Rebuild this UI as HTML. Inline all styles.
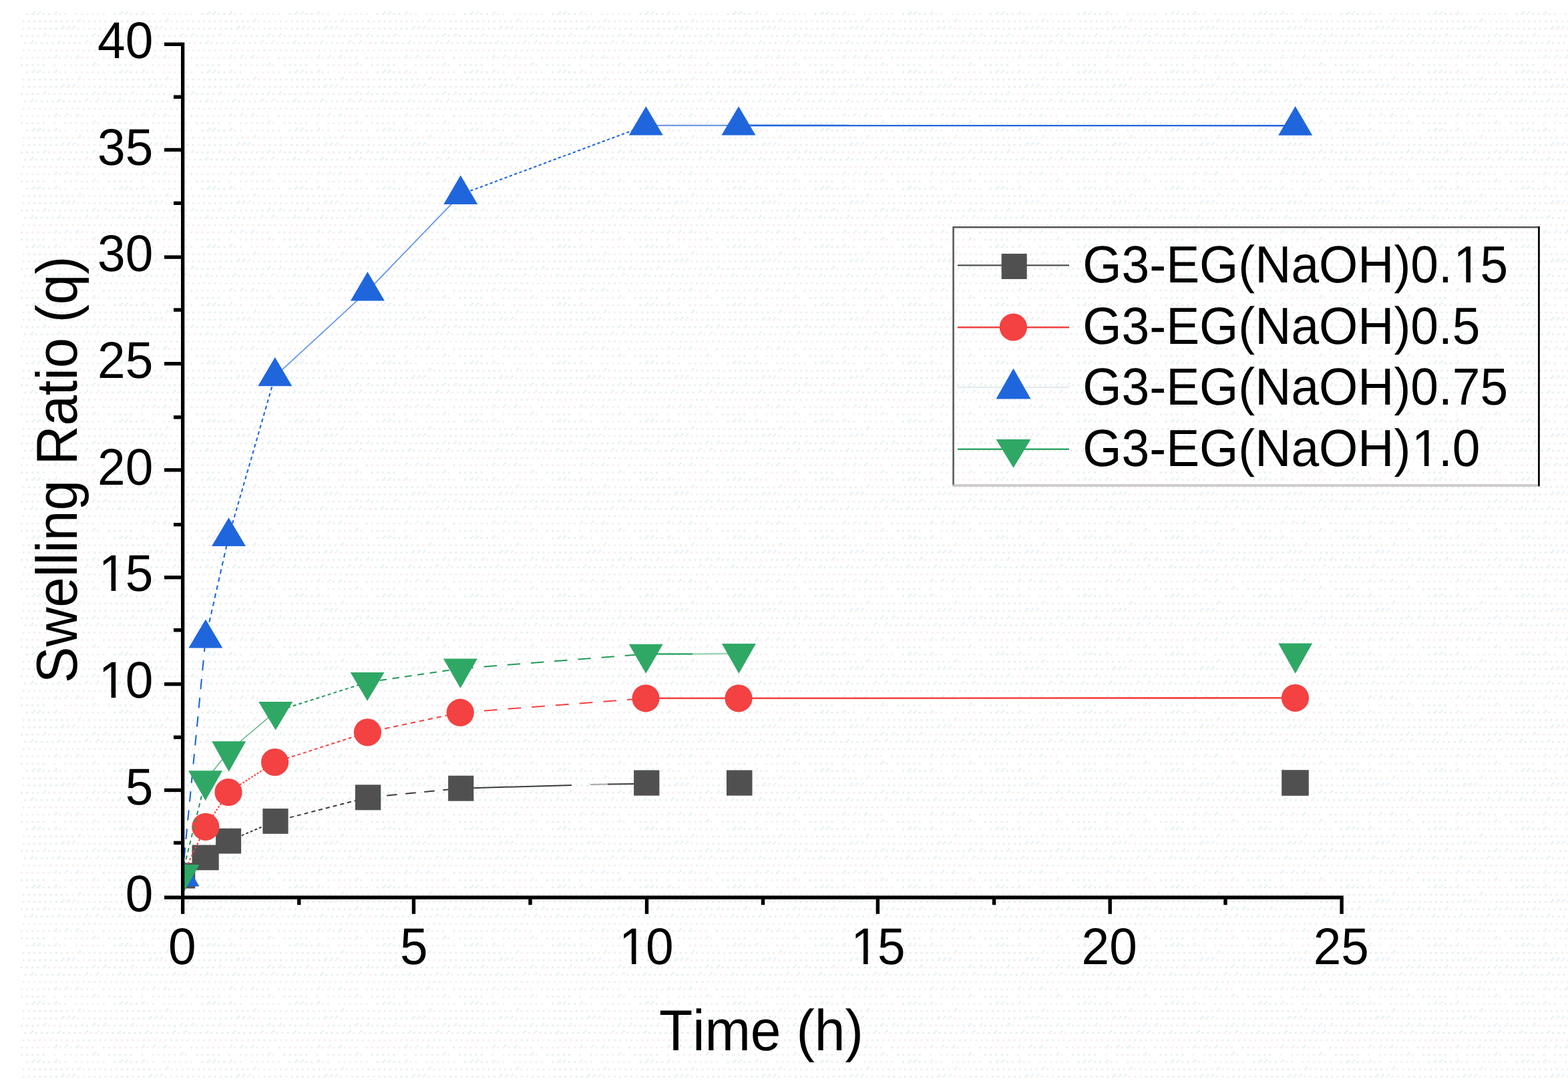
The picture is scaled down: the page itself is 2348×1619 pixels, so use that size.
<!DOCTYPE html>
<html lang="en"><head><meta charset="utf-8"><title>Swelling Ratio (q) vs Time (h)</title>
<style>html,body{margin:0;padding:0;background:#fff;}body{width:2348px;height:1619px;overflow:hidden;}svg{display:block;}text{font-family:'Liberation Sans', Arial, Helvetica, sans-serif;fill:#000;font-kerning:none;text-rendering:geometricPrecision;}</style>
</head><body>
<svg width="2348" height="1619" viewBox="0 0 2348 1619">
<defs>
<pattern id="dots" x="31" y="17" width="131.2" height="87.2" patternUnits="userSpaceOnUse">
<rect x="8.2" y="2.7" width="2.7" height="2.7" fill="#e2ecea"/>
<rect x="16.4" y="2.7" width="2.7" height="2.7" fill="#e2ecea"/>
<rect x="19.1" y="0.0" width="2.7" height="2.7" fill="#ddf0fb"/>
<rect x="19.1" y="2.7" width="2.7" height="2.7" fill="#f3fbec"/>
<rect x="24.6" y="2.7" width="2.7" height="2.7" fill="#e2ecea"/>
<rect x="27.3" y="0.0" width="2.7" height="2.7" fill="#ddf0fb"/>
<rect x="32.8" y="2.7" width="2.7" height="2.7" fill="#e2ecea"/>
<rect x="41.0" y="2.7" width="2.7" height="2.7" fill="#e2ecea"/>
<rect x="49.2" y="2.7" width="2.7" height="2.7" fill="#f7eaec"/>
<rect x="51.9" y="0.0" width="2.7" height="2.7" fill="#ddf0fb"/>
<rect x="51.9" y="2.7" width="2.7" height="2.7" fill="#f3fbec"/>
<rect x="57.4" y="2.7" width="2.7" height="2.7" fill="#f7eaec"/>
<rect x="65.6" y="2.7" width="2.7" height="2.7" fill="#f7eaec"/>
<rect x="82.0" y="2.7" width="2.7" height="2.7" fill="#f7eaec"/>
<rect x="90.2" y="2.7" width="2.7" height="2.7" fill="#f7eaec"/>
<rect x="98.4" y="2.7" width="2.7" height="2.7" fill="#f7eaec"/>
<rect x="106.6" y="2.7" width="2.7" height="2.7" fill="#f7eaec"/>
<rect x="114.8" y="2.7" width="2.7" height="2.7" fill="#f7eaec"/>
<rect x="123.0" y="2.7" width="2.7" height="2.7" fill="#f7eaec"/>
<rect x="2.7" y="13.6" width="2.7" height="2.7" fill="#f7eaec"/>
<rect x="10.9" y="13.6" width="2.7" height="2.7" fill="#e2ecea"/>
<rect x="19.1" y="13.6" width="2.7" height="2.7" fill="#e2ecea"/>
<rect x="27.3" y="13.6" width="2.7" height="2.7" fill="#e2ecea"/>
<rect x="35.5" y="13.6" width="2.7" height="2.7" fill="#e2ecea"/>
<rect x="43.7" y="13.6" width="2.7" height="2.7" fill="#e2ecea"/>
<rect x="51.9" y="13.6" width="2.7" height="2.7" fill="#e2ecea"/>
<rect x="60.1" y="13.6" width="2.7" height="2.7" fill="#e2ecea"/>
<rect x="68.3" y="13.6" width="2.7" height="2.7" fill="#e2ecea"/>
<rect x="76.5" y="13.6" width="2.7" height="2.7" fill="#f7eaec"/>
<rect x="84.7" y="13.6" width="2.7" height="2.7" fill="#f7eaec"/>
<rect x="87.4" y="10.9" width="2.7" height="2.7" fill="#ddf0fb"/>
<rect x="87.4" y="13.6" width="2.7" height="2.7" fill="#f3fbec"/>
<rect x="92.9" y="13.6" width="2.7" height="2.7" fill="#f7eaec"/>
<rect x="101.1" y="13.6" width="2.7" height="2.7" fill="#f7eaec"/>
<rect x="109.3" y="13.6" width="2.7" height="2.7" fill="#f7eaec"/>
<rect x="117.5" y="13.6" width="2.7" height="2.7" fill="#f7eaec"/>
<rect x="125.7" y="13.6" width="2.7" height="2.7" fill="#e2ecea"/>
<rect x="2.7" y="24.5" width="2.7" height="2.7" fill="#f7eaec"/>
<rect x="10.9" y="24.5" width="2.7" height="2.7" fill="#e2ecea"/>
<rect x="19.1" y="24.5" width="2.7" height="2.7" fill="#e2ecea"/>
<rect x="27.3" y="24.5" width="2.7" height="2.7" fill="#e2ecea"/>
<rect x="35.5" y="24.5" width="2.7" height="2.7" fill="#e2ecea"/>
<rect x="43.7" y="24.5" width="2.7" height="2.7" fill="#e2ecea"/>
<rect x="51.9" y="24.5" width="2.7" height="2.7" fill="#e2ecea"/>
<rect x="60.1" y="24.5" width="2.7" height="2.7" fill="#e2ecea"/>
<rect x="62.8" y="21.8" width="2.7" height="2.7" fill="#ddf0fb"/>
<rect x="62.8" y="24.5" width="2.7" height="2.7" fill="#f3fbec"/>
<rect x="68.3" y="24.5" width="2.7" height="2.7" fill="#f7eaec"/>
<rect x="71.0" y="21.8" width="2.7" height="2.7" fill="#ddf0fb"/>
<rect x="71.0" y="24.5" width="2.7" height="2.7" fill="#f3fbec"/>
<rect x="76.5" y="24.5" width="2.7" height="2.7" fill="#f7eaec"/>
<rect x="79.2" y="21.8" width="2.7" height="2.7" fill="#ddf0fb"/>
<rect x="84.7" y="24.5" width="2.7" height="2.7" fill="#f7eaec"/>
<rect x="92.9" y="24.5" width="2.7" height="2.7" fill="#f7eaec"/>
<rect x="101.1" y="24.5" width="2.7" height="2.7" fill="#f7eaec"/>
<rect x="109.3" y="24.5" width="2.7" height="2.7" fill="#e2ecea"/>
<rect x="117.5" y="24.5" width="2.7" height="2.7" fill="#e2ecea"/>
<rect x="125.7" y="24.5" width="2.7" height="2.7" fill="#e2ecea"/>
<rect x="0.0" y="35.4" width="2.7" height="2.7" fill="#e2ecea"/>
<rect x="8.2" y="35.4" width="2.7" height="2.7" fill="#e2ecea"/>
<rect x="16.4" y="35.4" width="2.7" height="2.7" fill="#e2ecea"/>
<rect x="24.6" y="35.4" width="2.7" height="2.7" fill="#e2ecea"/>
<rect x="32.8" y="35.4" width="2.7" height="2.7" fill="#f7eaec"/>
<rect x="35.5" y="32.7" width="2.7" height="2.7" fill="#ddf0fb"/>
<rect x="35.5" y="35.4" width="2.7" height="2.7" fill="#f3fbec"/>
<rect x="41.0" y="35.4" width="2.7" height="2.7" fill="#f7eaec"/>
<rect x="49.2" y="35.4" width="2.7" height="2.7" fill="#f7eaec"/>
<rect x="57.4" y="35.4" width="2.7" height="2.7" fill="#f7eaec"/>
<rect x="65.6" y="35.4" width="2.7" height="2.7" fill="#f7eaec"/>
<rect x="73.8" y="35.4" width="2.7" height="2.7" fill="#e2ecea"/>
<rect x="82.0" y="35.4" width="2.7" height="2.7" fill="#e2ecea"/>
<rect x="90.2" y="35.4" width="2.7" height="2.7" fill="#e2ecea"/>
<rect x="98.4" y="35.4" width="2.7" height="2.7" fill="#e2ecea"/>
<rect x="106.6" y="35.4" width="2.7" height="2.7" fill="#e2ecea"/>
<rect x="109.3" y="32.7" width="2.7" height="2.7" fill="#ddf0fb"/>
<rect x="114.8" y="35.4" width="2.7" height="2.7" fill="#e2ecea"/>
<rect x="123.0" y="35.4" width="2.7" height="2.7" fill="#f7eaec"/>
<rect x="125.7" y="32.7" width="2.7" height="2.7" fill="#ddf0fb"/>
<rect x="125.7" y="35.4" width="2.7" height="2.7" fill="#f3fbec"/>
<rect x="5.5" y="46.3" width="2.7" height="2.7" fill="#e2ecea"/>
<rect x="13.7" y="46.3" width="2.7" height="2.7" fill="#e2ecea"/>
<rect x="16.4" y="43.6" width="2.7" height="2.7" fill="#ddf0fb"/>
<rect x="16.4" y="46.3" width="2.7" height="2.7" fill="#f3fbec"/>
<rect x="21.9" y="46.3" width="2.7" height="2.7" fill="#e2ecea"/>
<rect x="30.1" y="46.3" width="2.7" height="2.7" fill="#e2ecea"/>
<rect x="38.3" y="46.3" width="2.7" height="2.7" fill="#e2ecea"/>
<rect x="46.5" y="46.3" width="2.7" height="2.7" fill="#e2ecea"/>
<rect x="54.7" y="46.3" width="2.7" height="2.7" fill="#e2ecea"/>
<rect x="57.4" y="43.6" width="2.7" height="2.7" fill="#ddf0fb"/>
<rect x="62.9" y="46.3" width="2.7" height="2.7" fill="#e2ecea"/>
<rect x="71.1" y="46.3" width="2.7" height="2.7" fill="#e2ecea"/>
<rect x="79.3" y="46.3" width="2.7" height="2.7" fill="#e2ecea"/>
<rect x="87.5" y="46.3" width="2.7" height="2.7" fill="#f7eaec"/>
<rect x="95.7" y="46.3" width="2.7" height="2.7" fill="#f7eaec"/>
<rect x="98.4" y="43.6" width="2.7" height="2.7" fill="#ddf0fb"/>
<rect x="103.9" y="46.3" width="2.7" height="2.7" fill="#f7eaec"/>
<rect x="112.1" y="46.3" width="2.7" height="2.7" fill="#f7eaec"/>
<rect x="114.8" y="43.6" width="2.7" height="2.7" fill="#ddf0fb"/>
<rect x="120.3" y="46.3" width="2.7" height="2.7" fill="#f7eaec"/>
<rect x="128.5" y="46.3" width="2.7" height="2.7" fill="#f7eaec"/>
<rect x="2.7" y="57.2" width="2.7" height="2.7" fill="#f7eaec"/>
<rect x="10.9" y="57.2" width="2.7" height="2.7" fill="#f7eaec"/>
<rect x="19.1" y="57.2" width="2.7" height="2.7" fill="#f7eaec"/>
<rect x="27.3" y="57.2" width="2.7" height="2.7" fill="#f7eaec"/>
<rect x="35.5" y="57.2" width="2.7" height="2.7" fill="#f7eaec"/>
<rect x="43.7" y="57.2" width="2.7" height="2.7" fill="#f7eaec"/>
<rect x="51.9" y="57.2" width="2.7" height="2.7" fill="#f7eaec"/>
<rect x="60.1" y="57.2" width="2.7" height="2.7" fill="#f7eaec"/>
<rect x="68.3" y="57.2" width="2.7" height="2.7" fill="#f7eaec"/>
<rect x="76.5" y="57.2" width="2.7" height="2.7" fill="#f7eaec"/>
<rect x="84.7" y="57.2" width="2.7" height="2.7" fill="#f7eaec"/>
<rect x="92.9" y="57.2" width="2.7" height="2.7" fill="#e2ecea"/>
<rect x="101.1" y="57.2" width="2.7" height="2.7" fill="#e2ecea"/>
<rect x="109.3" y="57.2" width="2.7" height="2.7" fill="#f7eaec"/>
<rect x="117.5" y="57.2" width="2.7" height="2.7" fill="#f7eaec"/>
<rect x="125.7" y="57.2" width="2.7" height="2.7" fill="#f7eaec"/>
<rect x="0.0" y="68.1" width="2.7" height="2.7" fill="#f7eaec"/>
<rect x="8.2" y="68.1" width="2.7" height="2.7" fill="#f7eaec"/>
<rect x="16.4" y="68.1" width="2.7" height="2.7" fill="#f7eaec"/>
<rect x="24.6" y="68.1" width="2.7" height="2.7" fill="#f7eaec"/>
<rect x="32.8" y="68.1" width="2.7" height="2.7" fill="#f7eaec"/>
<rect x="41.0" y="68.1" width="2.7" height="2.7" fill="#f7eaec"/>
<rect x="49.2" y="68.1" width="2.7" height="2.7" fill="#f7eaec"/>
<rect x="51.9" y="65.4" width="2.7" height="2.7" fill="#ddf0fb"/>
<rect x="51.9" y="68.1" width="2.7" height="2.7" fill="#f3fbec"/>
<rect x="57.4" y="68.1" width="2.7" height="2.7" fill="#f7eaec"/>
<rect x="65.6" y="68.1" width="2.7" height="2.7" fill="#f7eaec"/>
<rect x="68.3" y="65.4" width="2.7" height="2.7" fill="#ddf0fb"/>
<rect x="73.8" y="68.1" width="2.7" height="2.7" fill="#f7eaec"/>
<rect x="82.0" y="68.1" width="2.7" height="2.7" fill="#e2ecea"/>
<rect x="84.7" y="65.4" width="2.7" height="2.7" fill="#ddf0fb"/>
<rect x="84.7" y="68.1" width="2.7" height="2.7" fill="#f3fbec"/>
<rect x="90.2" y="68.1" width="2.7" height="2.7" fill="#f7eaec"/>
<rect x="98.4" y="68.1" width="2.7" height="2.7" fill="#f7eaec"/>
<rect x="106.6" y="68.1" width="2.7" height="2.7" fill="#f7eaec"/>
<rect x="123.0" y="68.1" width="2.7" height="2.7" fill="#e2ecea"/>
<rect x="0.0" y="79.0" width="2.7" height="2.7" fill="#e2ecea"/>
<rect x="8.2" y="79.0" width="2.7" height="2.7" fill="#e2ecea"/>
<rect x="16.4" y="79.0" width="2.7" height="2.7" fill="#e2ecea"/>
<rect x="24.6" y="79.0" width="2.7" height="2.7" fill="#e2ecea"/>
<rect x="32.8" y="79.0" width="2.7" height="2.7" fill="#e2ecea"/>
<rect x="49.2" y="79.0" width="2.7" height="2.7" fill="#f7eaec"/>
<rect x="65.6" y="79.0" width="2.7" height="2.7" fill="#f7eaec"/>
<rect x="73.8" y="79.0" width="2.7" height="2.7" fill="#f7eaec"/>
<rect x="82.0" y="79.0" width="2.7" height="2.7" fill="#f7eaec"/>
<rect x="90.2" y="79.0" width="2.7" height="2.7" fill="#f7eaec"/>
<rect x="98.4" y="79.0" width="2.7" height="2.7" fill="#f7eaec"/>
<rect x="106.6" y="79.0" width="2.7" height="2.7" fill="#f7eaec"/>
<rect x="109.3" y="76.3" width="2.7" height="2.7" fill="#ddf0fb"/>
<rect x="109.3" y="79.0" width="2.7" height="2.7" fill="#f3fbec"/>
<rect x="114.8" y="79.0" width="2.7" height="2.7" fill="#f7eaec"/>
</pattern>
<clipPath id="plot"><rect x="276" y="40" width="1760" height="1302"/></clipPath>
</defs>
<rect x="0" y="0" width="2348" height="1619" fill="#ffffff"/>
<rect x="31" y="17" width="2317" height="1602" fill="url(#dots)"/>
<g clip-path="url(#plot)">
<circle cx="272.6" cy="1312.1" r="19.2" fill="#f44141"/>
<g id="series-black">
<line x1="273.0" y1="1311.5" x2="307.6" y2="1284.4" stroke="#3c3c3c" stroke-width="1.6" stroke-opacity="0.70"/>
<line x1="307.6" y1="1284.4" x2="342.1" y2="1259.6" stroke="#3c3c3c" stroke-width="2.0" stroke-dasharray="2.6 2.1" stroke-dashoffset="0.0"/>
<line x1="342.1" y1="1259.6" x2="412.5" y2="1229.9" stroke="#3c3c3c" stroke-width="2.0" stroke-dasharray="3.9 3.2" stroke-dashoffset="0.0"/>
<line x1="412.5" y1="1229.9" x2="551.1" y2="1194.3" stroke="#3c3c3c" stroke-width="2.0" stroke-dasharray="6.1 5.0" stroke-dashoffset="0.0"/>
<line x1="551.1" y1="1194.3" x2="690.2" y2="1180.7" stroke="#3c3c3c" stroke-width="2.0" stroke-dasharray="15.5 12.7" stroke-dashoffset="0.0"/>
<line x1="690.2" y1="1180.7" x2="856.0" y2="1176.0" stroke="#3c3c3c" stroke-width="2.0"/>
<line x1="884.0" y1="1175.0" x2="910.0" y2="1174.6" stroke="#a9a9a9" stroke-width="2.0"/>
<line x1="910.0" y1="1174.6" x2="950.0" y2="1173.9" stroke="#3c3c3c" stroke-width="2.0"/>
<rect x="253.8" y="1292.3" width="38.5" height="38.3" fill="#505050"/>
<rect x="287.5" y="1265.5" width="40.2" height="37.8" fill="#505050"/>
<rect x="323.1" y="1240.7" width="38.0" height="37.8" fill="#505050"/>
<rect x="393.4" y="1211.0" width="38.2" height="37.8" fill="#505050"/>
<rect x="531.9" y="1175.3" width="38.4" height="38.0" fill="#505050"/>
<rect x="671.1" y="1161.7" width="38.2" height="38.0" fill="#505050"/>
<rect x="949.1" y="1153.5" width="38.3" height="38.1" fill="#505050"/>
<rect x="1087.9" y="1153.5" width="38.6" height="38.1" fill="#505050"/>
<rect x="1919.2" y="1153.2" width="40.6" height="38.6" fill="#505050"/>
</g>
<g id="series-red">
<line x1="273.0" y1="1311.5" x2="307.8" y2="1238.3" stroke="#f44141" stroke-width="2.0" stroke-dasharray="3.5 2.9" stroke-dashoffset="0.0"/>
<line x1="307.8" y1="1238.3" x2="342.0" y2="1186.5" stroke="#f44141" stroke-width="2.0" stroke-dasharray="2.7 2.2" stroke-dashoffset="0.0"/>
<line x1="342.0" y1="1186.5" x2="411.6" y2="1141.5" stroke="#f44141" stroke-width="2.0" stroke-dasharray="2.8 2.3" stroke-dashoffset="0.0"/>
<line x1="411.6" y1="1141.5" x2="550.4" y2="1096.8" stroke="#f44141" stroke-width="2.0" stroke-dasharray="4.9 4.0" stroke-dashoffset="0.0"/>
<line x1="550.4" y1="1096.8" x2="689.2" y2="1067.2" stroke="#f44141" stroke-width="2.0" stroke-dasharray="7.3 5.9" stroke-dashoffset="0.0"/>
<line x1="689.2" y1="1067.2" x2="967.0" y2="1045.8" stroke="#f44141" stroke-width="2.0" stroke-dasharray="19.7 16.1" stroke-dashoffset="0.0"/>
<line x1="967.0" y1="1045.8" x2="1106.0" y2="1045.8" stroke="#f44141" stroke-width="2.6"/>
<line x1="1106.0" y1="1045.8" x2="1939.5" y2="1045.3" stroke="#f44141" stroke-width="2.6"/>
<circle cx="307.8" cy="1238.3" r="20.6" fill="#f44141"/>
<circle cx="342.0" cy="1186.5" r="20.6" fill="#f44141"/>
<circle cx="411.6" cy="1141.5" r="20.6" fill="#f44141"/>
<circle cx="550.4" cy="1096.8" r="20.6" fill="#f44141"/>
<circle cx="689.2" cy="1067.2" r="20.6" fill="#f44141"/>
<circle cx="967.0" cy="1045.8" r="20.6" fill="#f44141"/>
<circle cx="1106.0" cy="1045.8" r="20.6" fill="#f44141"/>
<circle cx="1939.5" cy="1045.3" r="20.6" fill="#f44141"/>
</g>
<g id="series-blue">
<line x1="273.0" y1="1312.9" x2="307.9" y2="955.9" stroke="#1f66dd" stroke-width="2.1" stroke-dasharray="15.5 12.7" stroke-dashoffset="0.0"/>
<line x1="307.9" y1="955.9" x2="342.5" y2="803.3" stroke="#1f66dd" stroke-width="2.1" stroke-dasharray="6.8 5.6" stroke-dashoffset="0.0"/>
<line x1="342.5" y1="803.3" x2="411.8" y2="563.6" stroke="#1f66dd" stroke-width="2.1" stroke-dasharray="5.4 4.5" stroke-dashoffset="0.0"/>
<line x1="411.8" y1="563.6" x2="550.4" y2="435.8" stroke="#1f66dd" stroke-width="1.7" stroke-opacity="0.70"/>
<line x1="550.4" y1="435.8" x2="689.7" y2="291.3" stroke="#1f66dd" stroke-width="1.7" stroke-opacity="0.70"/>
<line x1="689.7" y1="291.3" x2="967.3" y2="187.9" stroke="#1f66dd" stroke-width="2.1" stroke-dasharray="4.3 3.5" stroke-dashoffset="0.0"/>
<line x1="967.3" y1="187.9" x2="1106.0" y2="187.9" stroke="#6f9be6" stroke-width="2.2"/>
<line x1="1106.0" y1="187.9" x2="1939.7" y2="188.1" stroke="#1f66dd" stroke-width="2.6"/>
<polygon points="273.0,1284.0 298.5,1327.6 247.5,1327.6" fill="#1f66dd"/>
<polygon points="307.9,927.5 333.4,970.6 282.4,970.6" fill="#1f66dd"/>
<polygon points="342.5,775.2 368.0,818.0 317.0,818.0" fill="#1f66dd"/>
<polygon points="411.8,535.1 437.3,578.3 386.3,578.3" fill="#1f66dd"/>
<polygon points="550.4,407.1 575.9,450.5 524.9,450.5" fill="#1f66dd"/>
<polygon points="689.7,262.6 715.2,306.0 664.2,306.0" fill="#1f66dd"/>
<polygon points="967.3,159.3 992.8,202.6 941.8,202.6" fill="#1f66dd"/>
<polygon points="1106.0,159.3 1131.5,202.6 1080.5,202.6" fill="#1f66dd"/>
<polygon points="1939.7,159.1 1965.2,202.8 1914.2,202.8" fill="#1f66dd"/>
</g>
<g id="series-green">
<line x1="272.9" y1="1309.7" x2="307.6" y2="1168.9" stroke="#239a5a" stroke-width="2.0" stroke-dasharray="6.3 5.2" stroke-dashoffset="0.0"/>
<line x1="307.6" y1="1168.9" x2="342.7" y2="1125.0" stroke="#239a5a" stroke-width="1.6" stroke-opacity="0.70"/>
<line x1="342.7" y1="1125.0" x2="412.7" y2="1065.6" stroke="#239a5a" stroke-width="1.6" stroke-opacity="0.70"/>
<line x1="412.7" y1="1065.6" x2="550.1" y2="1021.7" stroke="#239a5a" stroke-width="2.0" stroke-dasharray="5.0 4.1" stroke-dashoffset="0.0"/>
<line x1="550.1" y1="1021.7" x2="689.4" y2="1001.2" stroke="#239a5a" stroke-width="2.0" stroke-dasharray="10.4 8.5" stroke-dashoffset="0.0"/>
<line x1="689.4" y1="1001.2" x2="967.2" y2="979.5" stroke="#239a5a" stroke-width="2.0" stroke-dasharray="19.4 15.9" stroke-dashoffset="0.0"/>
<line x1="967.2" y1="979.5" x2="1037.0" y2="979.5" stroke="#2fa866" stroke-width="2.6"/>
<line x1="1037.0" y1="979.5" x2="1106.4" y2="978.7" stroke="#9fd5b5" stroke-width="2.6"/>
<polygon points="247.4,1295.0 298.4,1295.0 272.9,1340.5" fill="#2fa866"/>
<polygon points="282.1,1154.2 333.1,1154.2 307.6,1199.1" fill="#2fa866"/>
<polygon points="317.2,1110.3 368.2,1110.3 342.7,1155.7" fill="#2fa866"/>
<polygon points="387.2,1050.9 438.2,1050.9 412.7,1093.5" fill="#2fa866"/>
<polygon points="524.6,1007.0 575.6,1007.0 550.1,1049.8" fill="#2fa866"/>
<polygon points="663.9,986.5 714.9,986.5 689.4,1030.7" fill="#2fa866"/>
<polygon points="941.7,964.8 992.7,964.8 967.2,1008.8" fill="#2fa866"/>
<polygon points="1080.9,964.0 1131.9,964.0 1106.4,1008.8" fill="#2fa866"/>
<polygon points="1914.2,963.5 1965.2,963.5 1939.7,1008.8" fill="#2fa866"/>
</g>
</g>
<g id="axes" fill="#000">
<rect x="271" y="63.6" width="5.3" height="1305.2"/>
<rect x="246" y="1341.4" width="1765.8" height="5.5"/>
<rect x="246" y="63.6" width="26" height="5.4"/>
<rect x="246" y="221.7" width="26" height="5.4"/>
<rect x="246" y="382.4" width="26" height="5.4"/>
<rect x="246" y="542.0" width="26" height="5.4"/>
<rect x="246" y="701.2" width="26" height="5.4"/>
<rect x="246" y="862.1" width="26" height="5.4"/>
<rect x="246" y="1021.9" width="26" height="5.4"/>
<rect x="246" y="1180.7" width="26" height="5.4"/>
<rect x="260" y="142.5" width="12" height="5.4"/>
<rect x="260" y="301.6" width="12" height="5.4"/>
<rect x="260" y="461.4" width="12" height="5.4"/>
<rect x="260" y="622.2" width="12" height="5.4"/>
<rect x="260" y="783.0" width="12" height="5.4"/>
<rect x="260" y="941.0" width="12" height="5.4"/>
<rect x="260" y="1101.5" width="12" height="5.4"/>
<rect x="260" y="1259.6" width="12" height="5.4"/>
<rect x="616.8" y="1346" width="5.4" height="22.8"/>
<rect x="965.8" y="1346" width="5.4" height="22.8"/>
<rect x="1311.7" y="1346" width="5.4" height="22.8"/>
<rect x="1659.5" y="1346" width="5.4" height="22.8"/>
<rect x="2006.4" y="1346" width="5.4" height="22.8"/>
<rect x="445.1" y="1346" width="5.4" height="9.3"/>
<rect x="791.3" y="1346" width="5.4" height="9.3"/>
<rect x="1139.8" y="1346" width="5.4" height="9.3"/>
<rect x="1485.9" y="1346" width="5.4" height="9.3"/>
<rect x="1832.3" y="1346" width="5.4" height="9.3"/>
</g>
<g id="ytick-labels">
<g transform="translate(229.3 1364.6) scale(0.9652 1)"><text font-size="77.50" text-anchor="end">0</text></g>
<g transform="translate(229.3 1204.9) scale(0.9652 1)"><text font-size="77.50" text-anchor="end">5</text></g>
<g transform="translate(229.3 1045.2) scale(0.9652 1)"><text x="-86.20" font-size="77.50" text-anchor="start"><tspan dx="1.76">1</tspan><tspan dx="-1.76">0</tspan></text><rect x="-79.90" y="-6.43" width="14.95" height="8.62" fill="#fff"/><rect x="-58.10" y="-6.43" width="14.34" height="8.62" fill="#fff"/></g>
<g transform="translate(229.3 885.4) scale(0.9652 1)"><text x="-86.20" font-size="77.50" text-anchor="start"><tspan dx="1.76">1</tspan><tspan dx="-1.76">5</tspan></text><rect x="-79.90" y="-6.43" width="14.95" height="8.62" fill="#fff"/><rect x="-58.10" y="-6.43" width="14.34" height="8.62" fill="#fff"/></g>
<g transform="translate(229.3 725.7) scale(0.9652 1)"><text font-size="77.50" text-anchor="end">20</text></g>
<g transform="translate(229.3 566.0) scale(0.9652 1)"><text font-size="77.50" text-anchor="end">25</text></g>
<g transform="translate(229.3 406.3) scale(0.9652 1)"><text font-size="77.50" text-anchor="end">30</text></g>
<g transform="translate(229.3 246.5) scale(0.9652 1)"><text font-size="77.50" text-anchor="end">35</text></g>
<g transform="translate(229.3 86.8) scale(0.9652 1)"><text font-size="77.50" text-anchor="end">40</text></g>
</g>
<g id="xtick-labels">
<g transform="translate(272.8 1444.3) scale(0.9652 1)"><text font-size="77.50" text-anchor="middle">0</text></g>
<g transform="translate(619.9 1444.3) scale(0.9652 1)"><text font-size="77.50" text-anchor="middle">5</text></g>
<g transform="translate(967.0 1444.3) scale(0.9652 1)"><text x="-43.10" font-size="77.50" text-anchor="start"><tspan dx="1.76">1</tspan><tspan dx="-1.76">0</tspan></text><rect x="-36.80" y="-6.43" width="14.95" height="8.62" fill="#fff"/><rect x="-15.00" y="-6.43" width="14.34" height="8.62" fill="#fff"/></g>
<g transform="translate(1314.1 1444.3) scale(0.9652 1)"><text x="-43.10" font-size="77.50" text-anchor="start"><tspan dx="1.76">1</tspan><tspan dx="-1.76">5</tspan></text><rect x="-36.80" y="-6.43" width="14.95" height="8.62" fill="#fff"/><rect x="-15.00" y="-6.43" width="14.34" height="8.62" fill="#fff"/></g>
<g transform="translate(1661.2 1444.3) scale(0.9652 1)"><text font-size="77.50" text-anchor="middle">20</text></g>
<g transform="translate(2008.3 1444.3) scale(0.9652 1)"><text font-size="77.50" text-anchor="middle">25</text></g>
</g>
<g id="xtitle" transform="translate(1139.9 1572.7) scale(0.9492 1)"><text font-size="86.60" text-anchor="middle">Time (h)</text></g>
<g id="ytitle" transform="translate(115.4 703.3) rotate(-90) scale(0.9423 1)"><text font-size="86.60" text-anchor="middle">Swelling Ratio (q)</text></g>
<g id="legend">
<rect x="1427.6" y="340.3" width="876.8" height="386.7" fill="none" stroke="#555" stroke-width="2.5"/>
<line x1="1426.4" y1="727" x2="2305.6" y2="727" stroke="#cfc9c9" stroke-width="2.5"/>
<line x1="2304.4" y1="339" x2="2304.4" y2="728.2" stroke="#000" stroke-width="2.5"/>
<line x1="1434" y1="397.4" x2="1601" y2="397.4" stroke="#505050" stroke-width="2.4"/>
<line x1="1434" y1="490.2" x2="1601" y2="490.2" stroke="#f44141" stroke-width="2.4"/>
<line x1="1434" y1="580.1" x2="1601" y2="580.1" stroke="#e4ebef" stroke-width="2.4"/>
<line x1="1434" y1="672.7" x2="1601" y2="672.7" stroke="#2fa866" stroke-width="2.4"/>
<rect x="1499.7" y="380.0" width="38" height="38" fill="#505050"/>
<circle cx="1517.4" cy="490.0" r="20.6" fill="#f44141"/>
<polygon points="1517.5,551.7 1543.5,597.5 1491.5,597.5" fill="#1f66dd"/>
<polygon points="1491.5,658.0 1543.5,658.0 1517.5,700.7" fill="#2fa866"/>
<g transform="translate(1621.3 422.7) scale(0.9566 1)"><text x="0.00" font-size="78.30" text-anchor="start">G3-EG(NaOH)0.<tspan dx="1.78">1</tspan><tspan dx="-1.78">5</tspan></text><rect x="585.01" y="-6.50" width="15.10" height="8.69" fill="#fff"/><rect x="607.03" y="-6.50" width="14.49" height="8.69" fill="#fff"/></g>
<g transform="translate(1621.3 515.0) scale(0.9566 1)"><text font-size="78.30" text-anchor="start">G3-EG(NaOH)0.5</text></g>
<g transform="translate(1621.3 605.9) scale(0.9566 1)"><text font-size="78.30" text-anchor="start">G3-EG(NaOH)0.75</text></g>
<g transform="translate(1621.3 698.0) scale(0.9566 1)"><text x="0.00" font-size="78.30" text-anchor="start">G3-EG(NaOH)<tspan dx="1.78">1</tspan><tspan dx="-1.78">.</tspan>0</text><rect x="519.71" y="-6.50" width="15.10" height="8.69" fill="#fff"/><rect x="541.73" y="-6.50" width="14.49" height="8.69" fill="#fff"/></g>
</g>
</svg></body></html>
